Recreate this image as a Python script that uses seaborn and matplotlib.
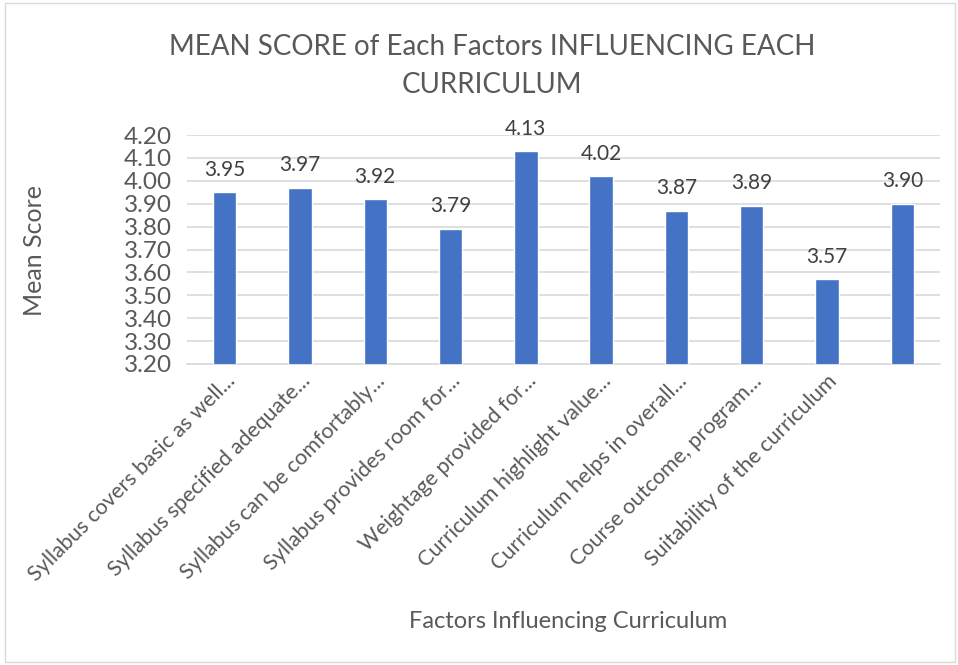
import matplotlib
matplotlib.use("Agg")
import matplotlib.pyplot as plt
import seaborn as sns
import pandas as pd

# Chart data
factors = [
    "Syllabus covers basic as well...",
    "Syllabus specified adequate...",
    "Syllabus can be comfortably...",
    "Syllabus provides room for...",
    "Weightage provided for...",
    "Curriculum highlight value...",
    "Curriculum helps in overall...",
    "Course outcome, program...",
    "Suitability of the curriculum",
    "",
]
mean_scores = [3.95, 3.97, 3.92, 3.79, 4.13, 4.02, 3.87, 3.89, 3.57, 3.90]
y_ticks = [3.20, 3.30, 3.40, 3.50, 3.60, 3.70, 3.80, 3.90, 4.00, 4.10, 4.20]

sns.set_theme(style="white")
plt.rcParams["font.family"] = ["Lato", "DejaVu Sans"]
text_color = "#595959"

df = pd.DataFrame({"pos": range(len(mean_scores)), "score": mean_scores})

fig = plt.figure(figsize=(9.58, 6.65), dpi=100)
ax = fig.add_axes([187 / 958, 1 - 364 / 665, (940 - 187) / 958, (364 - 135) / 665])

sns.barplot(data=df, x="pos", y="score", color="#4472C4", width=0.31,
            saturation=1, ax=ax, zorder=3)

ax.set_ylim(3.20, 4.20)
ax.set_yticks(y_ticks)
ax.set_yticklabels([f"{v:.2f}" for v in y_ticks], fontsize=17.5, color=text_color)
ax.grid(axis="y", color="#D9D9D9", linewidth=1.2, zorder=0)
ax.set_xlim(-0.5, len(mean_scores) - 0.5)
ax.set_xticks(range(len(factors)))
ax.set_xticklabels(factors, rotation=45, ha="right", rotation_mode="anchor",
                   fontsize=15.5, color=text_color)
ax.tick_params(axis="x", length=0, pad=5)
ax.tick_params(axis="y", length=0, pad=11)
for side in ["top", "right", "left"]:
    ax.spines[side].set_visible(False)
ax.spines["bottom"].set_color("#D9D9D9")
ax.spines["bottom"].set_linewidth(1.2)

for i, v in enumerate(mean_scores):
    ax.annotate(f"{v:.2f}", (i, v), xytext=(0, 9), textcoords="offset points",
                ha="center", va="bottom", fontsize=15, color="#404040")

ax.set_xlabel("")
ax.set_ylabel("")
fig.text(568 / 958, 1 - 621 / 665, "Factors Influencing Curriculum",
         ha="center", va="center", fontsize=17, color=text_color)
fig.text(35 / 958, 1 - 250 / 665, "Mean Score", rotation=90,
         ha="center", va="center", fontsize=18, color=text_color)
fig.text(492 / 958, 1 - 66 / 665,
         "MEAN SCORE of Each Factors INFLUENCING EACH\nCURRICULUM",
         ha="center", va="center", fontsize=20, color=text_color, linespacing=1.6)

# chart border
border = plt.Rectangle((5 / 958, 3 / 665), 950 / 958, 1 - 6 / 665,
                       transform=fig.transFigure, fill=False,
                       edgecolor="#D9D9D9", linewidth=1)
fig.add_artist(border)

fig.savefig("out.png", dpi=100)
